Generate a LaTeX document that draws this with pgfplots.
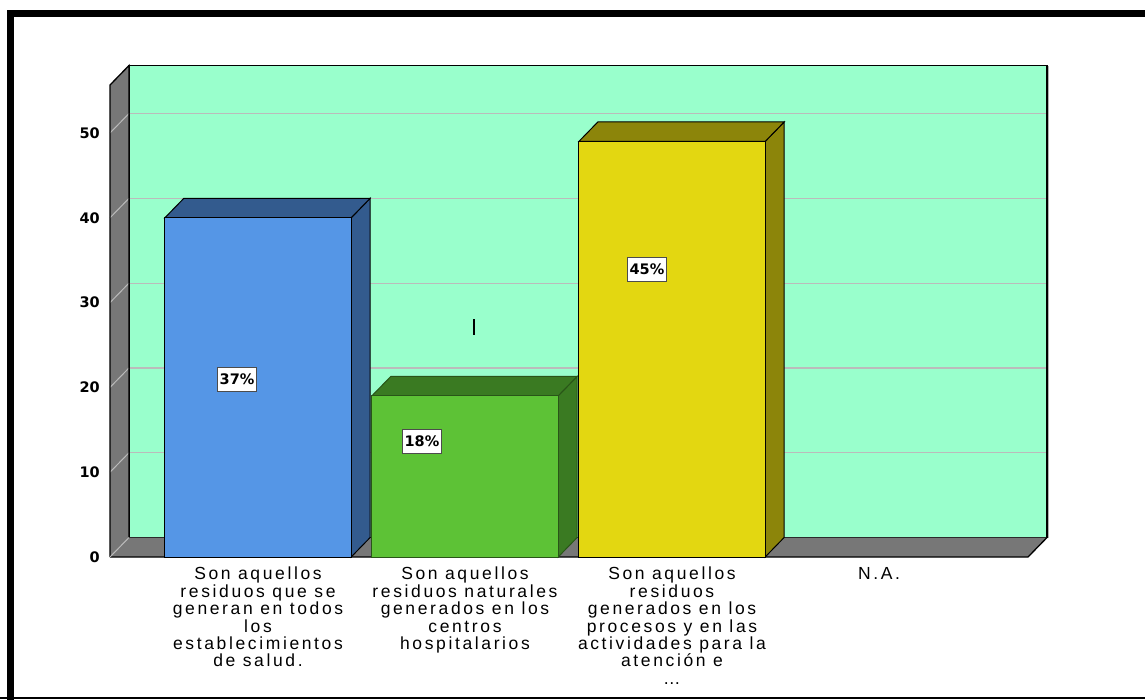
\documentclass[border=0pt]{standalone}
\usepackage{fontspec}
\setmainfont{Liberation Sans}
\newfontfamily\dejavu{DejaVu Sans}
\newfontfamily\catfont{Liberation Sans}[LetterSpace=15]
\usepackage{pgfplots}
\pgfplotsset{compat=1.18}
\definecolor{wallgreen}{HTML}{99FFCC}
\definecolor{wallgray}{HTML}{777777}
\definecolor{gridgray}{HTML}{BBBBBB}
\definecolor{bluefront}{HTML}{5596E6}
\definecolor{bluedark}{HTML}{335B8E}
\definecolor{greenfront}{HTML}{5DC236}
\definecolor{greendark}{HTML}{3A7A22}
\definecolor{yellowfront}{HTML}{E3D711}
\definecolor{yellowdark}{HTML}{8C850A}
\begin{document}
\begin{tikzpicture}[x=1pt,y=1pt]
\clip (0,0) rectangle (1145,-699);
\fill[white] (0,0) rectangle (1145,-699);
\draw[line width=7pt] (10.5,-760) -- (10.5,-13) -- (1200,-13);
\draw[line width=1.5pt] (0,-697.8) -- (1145,-697.8);
\begin{axis}[
  at={(110pt,-557pt)}, anchor=south west,
  scale only axis, width=918pt, height=472pt,
  xmin=-0.715, xmax=3.72, ymin=0, ymax=55.66,
  clip=false,
  axis line style={draw=none},
  major tick length=0pt,
  ytick={0,10,20,30,40,50},
  yticklabels={0,10,20,30,40,50},
  yticklabel style={font=\dejavu\bfseries\fontsize{14.5}{16}\selectfont, inner sep=0pt, xshift=-10pt},
  xtick={0,1,2,3},
  xticklabels={{Son aquellos\\residuos que se\\generan en todos\\los\\establecimientos\\de salud.},
               {Son aquellos\\residuos naturales\\generados en los\\centros\\hospitalarios},
               {Son aquellos\\residuos\\generados en los\\procesos y en las\\actividades para la\\atención e\\…},
               {N.A.}},
  xticklabel style={font=\catfont\fontsize{17.5}{17.4}\selectfont, align=center, inner sep=0pt, yshift=-10pt},
]
% back wall
\fill[wallgreen] (axis cs:-0.6232,2.3) rectangle (axis cs:3.8118,57.96);
\draw[gridgray, line width=1.2pt] (axis cs:-0.6232,12.3) -- (axis cs:3.8118,12.3);
\draw[gridgray, line width=1.2pt] (axis cs:-0.6232,22.3) -- (axis cs:3.8118,22.3);
\draw[gridgray, line width=1.2pt] (axis cs:-0.6232,32.3) -- (axis cs:3.8118,32.3);
\draw[gridgray, line width=1.2pt] (axis cs:-0.6232,42.3) -- (axis cs:3.8118,42.3);
\draw[gridgray, line width=1.2pt] (axis cs:-0.6232,52.3) -- (axis cs:3.8118,52.3);
\draw[gray!60, line width=1.5pt] (axis cs:3.8168,57.9) -- (axis cs:3.8168,2.3);
\draw[black, line width=1.6pt] (axis cs:-0.6232,2.3) rectangle (axis cs:3.8118,57.96);
% left wall
\fill[wallgray] (axis cs:-0.715,0) -- (axis cs:-0.715,55.66) -- (axis cs:-0.6232,57.96) -- (axis cs:-0.6232,2.3) -- cycle;
\draw[gridgray, line width=1pt] (axis cs:-0.715,10) -- (axis cs:-0.6232,12.3);
\draw[gridgray, line width=1pt] (axis cs:-0.715,20) -- (axis cs:-0.6232,22.3);
\draw[gridgray, line width=1pt] (axis cs:-0.715,30) -- (axis cs:-0.6232,32.3);
\draw[gridgray, line width=1pt] (axis cs:-0.715,40) -- (axis cs:-0.6232,42.3);
\draw[gridgray, line width=1pt] (axis cs:-0.715,50) -- (axis cs:-0.6232,52.3);
\draw[black, line width=1.3pt] (axis cs:-0.715,0) -- (axis cs:-0.715,55.66) -- (axis cs:-0.6232,57.96) -- (axis cs:-0.6232,2.3);
% floor
\fill[wallgray] (axis cs:-0.715,0) -- (axis cs:-0.6232,2.3) -- (axis cs:3.8118,2.3) -- (axis cs:3.72,0) -- cycle;
\draw[black, line width=1.3pt] (axis cs:-0.715,0) -- (axis cs:3.72,0) -- (axis cs:3.8118,2.3);
\draw[gridgray, line width=1pt] (axis cs:-0.715,0) -- (axis cs:-0.6232,2.3);
% blue bar
\addplot[fill=bluedark, draw=black, line width=1pt, mark=none] coordinates {(0.45,0) (0.5418,2.3) (0.5418,42.3) (0.45,40)} -- cycle;
\addplot[fill=bluedark, draw=black, line width=1pt, mark=none] coordinates {(-0.45,40) (-0.3582,42.3) (0.5418,42.3) (0.45,40)} -- cycle;
\addplot[ybar, bar width=0.9, bar shift=0pt, fill=bluefront, draw=black, line width=1pt] coordinates {(0,40)};
% green bar
\addplot[fill=greendark, draw=greendark!70!black, line width=1pt, mark=none] coordinates {(1.45,0) (1.5418,2.3) (1.5418,21.3) (1.45,19)} -- cycle;
\addplot[fill=greendark, draw=greendark!70!black, line width=1pt, mark=none] coordinates {(0.55,19) (0.6418,21.3) (1.5418,21.3) (1.45,19)} -- cycle;
\addplot[ybar, bar width=0.9, bar shift=0pt, fill=greenfront, draw=greendark!70!black, line width=1pt] coordinates {(1,19)};
% yellow bar
\addplot[fill=yellowdark, draw=black, line width=1pt, mark=none] coordinates {(2.45,0) (2.5418,2.3) (2.5418,51.3) (2.45,49)} -- cycle;
\addplot[fill=yellowdark, draw=black, line width=1pt, mark=none] coordinates {(1.55,49) (1.6418,51.3) (2.5418,51.3) (2.45,49)} -- cycle;
\addplot[ybar, bar width=0.9, bar shift=0pt, fill=yellowfront, draw=black, line width=1pt] coordinates {(2,49)};
% labels
\node[fill=white, draw=black!70, line width=1pt, font=\dejavu\bfseries\fontsize{14.5}{16}\selectfont, inner xsep=2.5pt, inner ysep=0pt, minimum height=24pt] at (axis cs:-0.101,20.99) {37\%};
\node[fill=white, draw=black!70, line width=1pt, font=\dejavu\bfseries\fontsize{14.5}{16}\selectfont, inner xsep=2.5pt, inner ysep=0pt, minimum height=24pt] at (axis cs:0.792,13.68) {18\%};
\node[fill=white, draw=black!70, line width=1pt, font=\dejavu\bfseries\fontsize{14.5}{16}\selectfont, inner xsep=2.5pt, inner ysep=0pt, minimum height=24pt] at (axis cs:1.879,33.96) {45\%};
\draw[line width=1.5pt] (axis cs:1.043,26.2) -- (axis cs:1.043,28.1);
\end{axis}
\end{tikzpicture}
\end{document}
